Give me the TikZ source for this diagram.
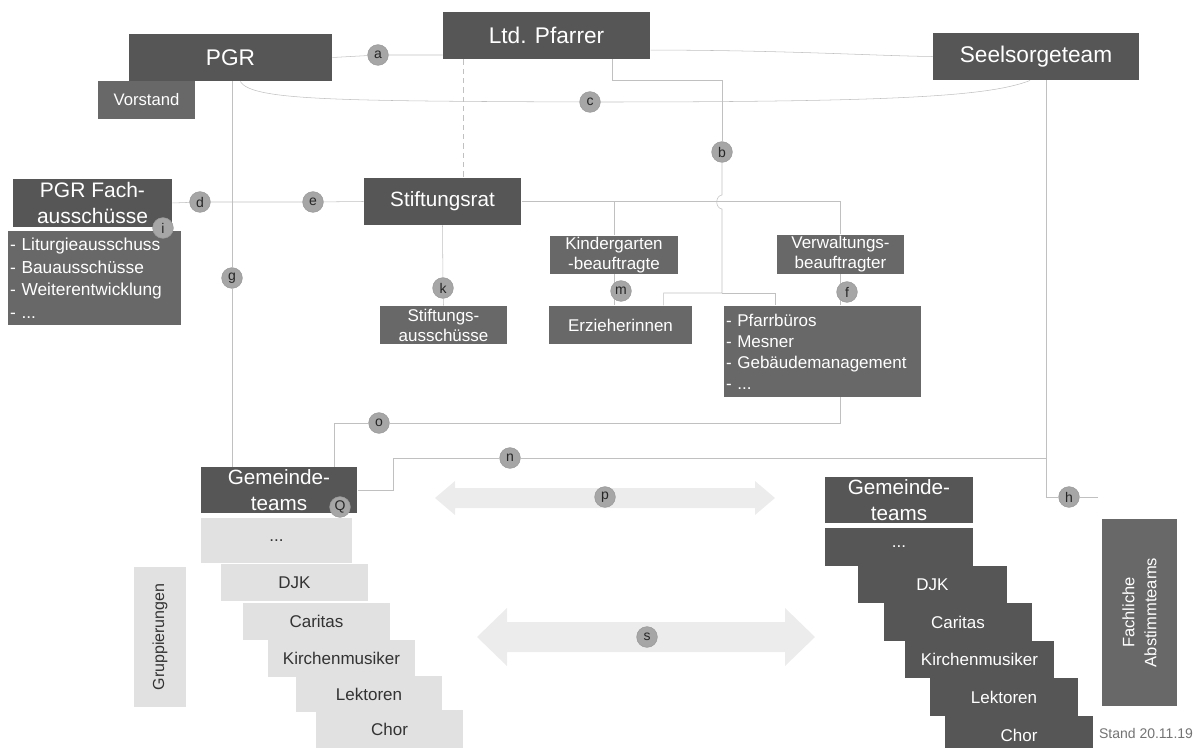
\documentclass[tikz,border=0pt]{standalone}
\usepackage{fontspec}
\setmainfont{Liberation Sans}
\usetikzlibrary{backgrounds,calc}

\definecolor{boxdark}{RGB}{86,86,86}
\definecolor{boxmid}{RGB}{104,104,104}
\definecolor{boxlight}{RGB}{225,225,225}
\definecolor{linegray}{RGB}{192,192,192}
\definecolor{taggray}{RGB}{166,166,166}
\definecolor{arrowgray}{RGB}{236,236,236}

\tikzset{every picture/.style={line width=0.75pt}}
\tikzset{
  wh/.style 2 args={minimum width=#1*0.75pt, minimum height=#2*0.75pt},
  darkbox/.style={fill=boxdark, text=white, inner sep=0pt, align=center},
  midbox/.style={fill=boxmid, text=white, inner sep=0pt, align=center},
  lightbox/.style={fill=boxlight, text=black!80, inner sep=0pt, align=center},
  listbox/.style={fill=boxmid, text=white, inner xsep=1.5pt, inner ysep=0pt, align=left},
  tag/.style={circle, fill=taggray, draw=black!40, line width=0.4pt, inner sep=0pt, minimum size=15.5pt, text=black!85, font=\fontsize{10.5}{11}\selectfont},
  conn/.style={draw=linegray},
  ftop/.style={font=\fontsize{17}{20}\selectfont},
  fmain/.style={font=\fontsize{15.5}{19}\selectfont},
  fsub/.style={font=\fontsize{12.75}{15}\selectfont},
}

\begin{document}
\begin{tikzpicture}[x=0.75pt,y=0.75pt,yscale=-1,xscale=1]
\useasboundingbox (0,0) rectangle (1196,748);

%Top row
\node[darkbox, wh={203}{47}, ftop] (pgr) at (230.5,57.5) {PGR};
\node[midbox, wh={97}{38}, font=\fontsize{12.5}{15}\selectfont] (vorstand) at (146.5,100) {Vorstand};
\node[darkbox, wh={207}{47}, ftop] (pfarrer) at (546.5,35.5) {Ltd. Pfarrer};
\node[darkbox, wh={206}{47}, ftop] (seel) at (1036,56.5) {Seelsorgeteam};

%Middle row
\node[darkbox, wh={159}{48}, font=\fontsize{15.75}{19.5}\selectfont] (fach) at (92.5,203) {PGR Fach-\\ausschüsse};
\node[listbox, wh={173}{94}, text width=126.75pt, font=\fontsize{13}{16.9}\selectfont] (fachlist) at (94.5,278) {- Liturgieausschuss\\- Bauausschüsse\\- Weiterentwicklung\\- ...};
\node[darkbox, wh={157}{47}, fmain] (stift) at (442.5,201.5) {Stiftungsrat};
\node[midbox, wh={127}{38}, fsub] (stiftaus) at (443.5,325) {Stiftungs-\\ausschüsse};
\node[midbox, wh={128}{38}, fsub] (kinder) at (614,255) {Kindergarten\\-beauftragte};
\node[midbox, wh={143}{38}, fsub] (erzieh) at (620.5,325) {Erzieherinnen};
\node[midbox, wh={127}{39}, fsub] (verw) at (840.5,254.5) {Verwaltungs-\\beauftragter};
\node[listbox, wh={197}{91}, text width=144.75pt, font=\fontsize{12.75}{15.75}\selectfont] (pfarrbuero) at (822.5,351.5) {- Pfarrbüros\\- Mesner\\- Gebäudemanagement\\- ...};

%Gemeindeteams left
\node[darkbox, wh={156}{46}, fmain] (gem1) at (279,490) {Gemeinde-\\teams};
\node[lightbox, wh={151}{45}, fsub] (dots1) at (276.5,540.5) {...};
\node[lightbox, wh={147}{37}, fsub] (djk1) at (294.5,582.5) {DJK};
\node[lightbox, wh={147}{37}, fsub] (car1) at (316.5,621.5) {Caritas};
\node[lightbox, wh={147}{37}, fsub] (kirch1) at (341.5,658.5) {Kirchenmusiker};
\node[lightbox, wh={146}{36}, fsub] (lekt1) at (369,694) {Lektoren};
\node[lightbox, wh={147}{38}, fsub] (chor1) at (389.5,729) {Chor};
\node[lightbox, wh={140}{52}, rotate=90, font=\fontsize{12}{14}\selectfont] (grupp) at (160,637) {Gruppierungen};

%Gemeindeteams right
\node[darkbox, wh={148}{46}, fmain] (gem2) at (899,500) {Gemeinde-\\teams};
\node[darkbox, wh={148}{38}, fsub] (dots2) at (899,547) {...};
\node[darkbox, wh={149}{37}, fsub] (djk2) at (932.5,584.5) {DJK};
\node[darkbox, wh={148}{38}, fsub] (car2) at (958,622) {Caritas};
\node[darkbox, wh={149}{37}, fsub] (kirch2) at (979.5,659.5) {Kirchenmusiker};
\node[darkbox, wh={148}{38}, fsub] (lekt2) at (1004,697) {Lektoren};
\node[darkbox, wh={148}{38}, fsub] (chor2) at (1019,735) {Chor};
\node[midbox, wh={187}{75}, rotate=90, font=\fontsize{12.4}{16.5}\selectfont] (fachl) at (1139.5,612.5) {Fachliche\\Abstimmteams};
\node[text=black!55, inner sep=0pt, font=\fontsize{10.5}{12}\selectfont] (stand) at (1146,733) {Stand 20.11.19};

%Tags
\node[tag] (a) at (378,55) {a};
\node[tag] (c) at (590,102) {c};
\node[tag] (b) at (722,152) {b};
\node[tag] (d) at (200,202) {d};
\node[tag] (e) at (313,202) {e};
\node[tag] (i) at (163,228) {i};
\node[tag] (g) at (232,278) {g};
\node[tag] (k) at (443,288) {k};
\node[tag] (m) at (621,291) {m};
\node[tag] (f) at (847,292) {f};
\node[tag] (o) at (379,423) {o};
\node[tag] (n) at (510,458) {n};
\node[tag] (p) at (605,497) {p};
\node[tag] (q) at (340,507) {Q};
\node[tag] (h) at (1069,497) {h};
\node[tag] (s) at (647,637) {s};

\begin{pgfonlayer}{background}
%Double arrows
\fill[arrowgray] (435,498) -- (455,481) -- (455,488) -- (755,488) -- (755,481) -- (775,498) -- (755,515) -- (755,508) -- (455,508) -- (455,515) -- cycle;
\fill[arrowgray] (477,637) -- (507,608) -- (507,622) -- (785,622) -- (785,608) -- (815,637) -- (785,666) -- (785,652) -- (507,652) -- (507,666) -- cycle;

%Connectors
\draw[conn] (pgr.east) -- (a) -- (a -| pfarrer.west);
\draw[conn] (pfarrer.-8) .. controls (780,50) and (880,56) .. (seel.west);
\draw[conn] (pgr.-68) .. controls (252,100) and (330,101) .. (c);
\draw[conn] (c) .. controls (900,102) and (990,96) .. (seel.-104);
\draw[conn] (pfarrer.-20) -- ++(0,21) -| (b);
\draw[conn] (b) -- (722,195) .. controls (715,196) and (715,208) .. (722,209) -- (722,293) -| ($(erzieh.north east)!0.2!(erzieh.north west)$);
\draw[conn] (722,293) -| ($(pfarrbuero.north west)!0.26!(pfarrbuero.north east)$);
\draw[conn, dash pattern=on 4pt off 3pt] (pfarrer.196) -- (pfarrer.196 |- stift.north);
\draw[conn] (fach.east) -- (d) -- (e) -- (stift.west);
\draw[conn] (pgr.south -| g) -- (g) -- (g |- gem1.north);
\draw[conn] (stift.south) -- (k) -- (stiftaus.north);
\draw[conn] (stift.east) -| (verw.north);
\draw[conn] (kinder.north |- stift.east) -- (kinder.north);
\draw[conn] (kinder.south) -- (kinder.south |- erzieh.north);
\draw[conn] (verw.south) -- (verw.south |- pfarrbuero.north);
\draw[conn] (verw.south |- pfarrbuero.south) |- (o);
\draw[conn] (o) -| ($(gem1.north west)!0.85!(gem1.north east)$);
\draw[conn] (gem1.east) -- ++(36,0) |- (n);
\draw[conn] (n) -- (n -| seel.-67);
\draw[conn] (seel.-67) |- (h);
\coordinate (hend) at (1098,497);
\draw[conn] (h) -- (hend);
\end{pgfonlayer}

\end{tikzpicture}
\end{document}
